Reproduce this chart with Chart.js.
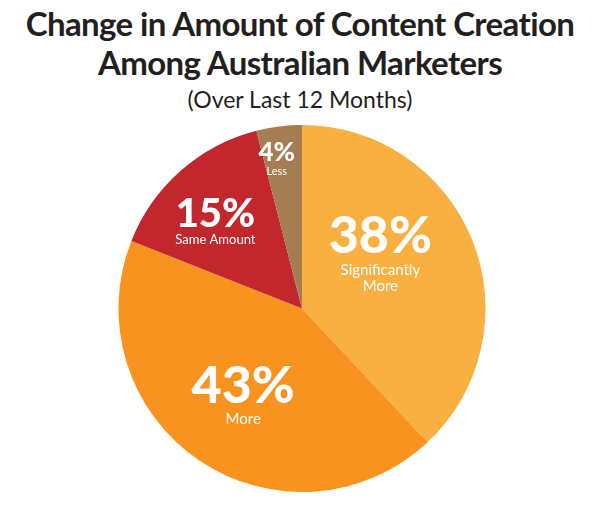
<!DOCTYPE html>
<html>
<head>
<meta charset="utf-8">
<script src="https://cdn.jsdelivr.net/npm/chart.js@4"></script>
<style>
  body { margin: 0; background: #fff; }
  #wrap { position: relative; width: 600px; height: 512px; }
  #title { position: absolute; top: 4px; left: 0; width: 600px; text-align: center;
           font-family: Lato, "Open Sans", sans-serif; color: #231f20; }
  #title .t { font-size: 33px; font-weight: 700; line-height: 39px; letter-spacing: -0.6px; }
  #title .s { font-size: 23px; font-weight: 400; line-height: 32px; margin-top: 1px; }
  canvas { position: absolute; top: 0; left: 0; }
</style>
</head>
<body>
<div id="wrap">
  <div id="title">
    <div class="t">Change in Amount of Content Creation<br>Among Australian Marketers</div>
    <div class="s">(Over Last 12 Months)</div>
  </div>
  <canvas id="pie" width="600" height="512"></canvas>
</div>
<script>
var categories = ["Significantly More", "More", "Same Amount", "Less"];
var subLabels = [["Significantly", "More"], ["More"], ["Same Amount"], ["Less"]];
var values = [38, 43, 15, 4];
var colors = ["#f9b040", "#f7931e", "#c1272d", "#a67c52"];

// label placement: radius fraction, angle shift (deg), big font, small font
var labelStyle = [
  { r: 0.58, shift: -21, big: 52, small: 15 },
  { r: 0.53, shift: 3, big: 52, small: 15 },
  { r: 0.70, shift: -1, big: 40, small: 13 },
  { r: 0.86, shift: -2, big: 26, small: 11 }
];

var sliceLabels = {
  id: "sliceLabels",
  afterDatasetsDraw: function (chart) {
    var ctx = chart.ctx;
    var arcs = chart.getDatasetMeta(0).data;
    arcs.forEach(function (arc, i) {
      var st = labelStyle[i];
      var mid = (arc.startAngle + arc.endAngle) / 2 + st.shift * Math.PI / 180;
      var x = arc.x + Math.cos(mid) * arc.outerRadius * st.r;
      var y = arc.y + Math.sin(mid) * arc.outerRadius * st.r;
      ctx.save();
      ctx.fillStyle = "#fff";
      ctx.textAlign = "center";
      ctx.textBaseline = "middle";
      ctx.font = "900 " + st.big + "px Lato, sans-serif";
      ctx.fillText(values[i] + "%", x, y);
      ctx.font = "400 " + st.small + "px Lato, sans-serif";
      var yy = y + st.big * 0.5 + st.small * 0.5;
      subLabels[i].forEach(function (line) {
        ctx.fillText(line, x, yy);
        yy += st.small * 1.1;
      });
      ctx.restore();
    });
  }
};

new Chart(document.getElementById("pie"), {
  type: "pie",
  data: {
    labels: categories,
    datasets: [{ data: values, backgroundColor: colors, borderWidth: 0 }]
  },
  options: {
    responsive: false,
    animation: false,
    layout: { padding: { top: 125, bottom: 20, left: 4, right: 0 } },
    plugins: { legend: { display: false }, tooltip: { enabled: false } }
  },
  plugins: [sliceLabels]
});
</script>
</body>
</html>
